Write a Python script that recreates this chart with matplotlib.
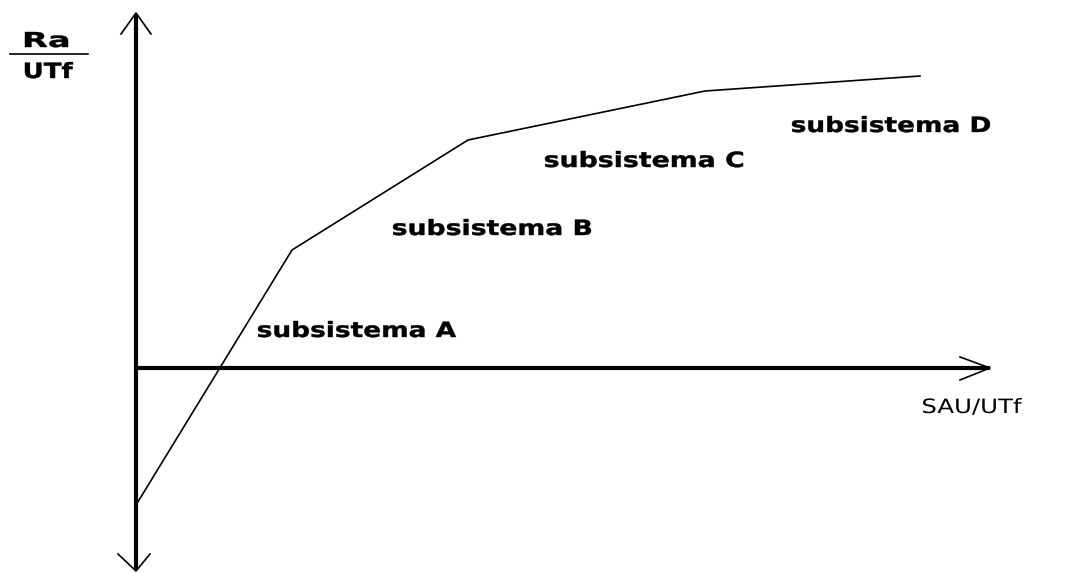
import matplotlib
matplotlib.use('Agg')
import matplotlib.pyplot as plt
from matplotlib.textpath import TextPath
from matplotlib.patches import PathPatch
from matplotlib.font_manager import FontProperties
from matplotlib.transforms import Affine2D, IdentityTransform

# breakpoints of the curve (x = SAU/UTf, y = Ra/UTf), arbitrary units
curve_x = [0.0, 1.56, 3.32, 5.69, 7.84]
curve_y = [-1.37, 1.18, 2.28, 2.77, 2.92]

subsystems = ['subsistema A', 'subsistema B', 'subsistema C', 'subsistema D']
label_x = [1.22, 2.57, 4.09, 6.56]
label_y = [0.31, 1.33, 2.01, 2.36]

fig = plt.figure(figsize=(10.65, 5.73), dpi=100)
ax = fig.add_axes([0, 0, 1, 1])
ax.set_xlim(-1.36, 9.29)
ax.set_ylim(-2.05, 3.68)
ax.axis('off')


def wide_text(x, y, s, width, height, weight='bold', stroke=0.3):
    # old bitmap fonts are much wider than anything installed, so stretch a path
    prop = FontProperties(family='DejaVu Sans', weight=weight)
    tp = TextPath((0, 0), s, size=20, prop=prop)
    ext = tp.get_extents()
    px, py = ax.transData.transform((x, y))
    tr = Affine2D().translate(-ext.x0, 0).scale(width / ext.width, height / ext.y1).translate(px, py)
    ax.add_patch(PathPatch(tr.transform_path(tp), transform=IdentityTransform(),
                           facecolor='black', edgecolor='black', lw=stroke))


# axes
ax.plot([0, 0], [-2.02, 3.54], color='black', lw=3, solid_capstyle='butt')
ax.plot([0, 8.54], [0, 0], color='black', lw=3, solid_capstyle='butt')

# open arrow heads
ax.plot([-0.15, 0, 0.15], [3.34, 3.55, 3.34], color='black', lw=1.2)
ax.plot([-0.18, 0, 0.14], [-1.86, -2.03, -1.86], color='black', lw=1.2)
ax.plot([8.24, 8.54, 8.24], [0.11, 0.0, -0.12], color='black', lw=1.2)

ax.plot(curve_x, curve_y, color='black', lw=1.2)

for s, x, y in zip(subsystems, label_x, label_y):
    wide_text(x, y, s, 198, 16)

wide_text(-1.11, 3.21, 'Ra', 43, 15)
ax.plot([-1.26, -0.48], [3.14, 3.14], color='black', lw=1.2)
wide_text(-1.11, 2.90, 'UTf', 48, 16)

wide_text(7.87, -0.45, 'SAU/UTf', 99, 15, weight='normal', stroke=0.0)

fig.savefig('out.png', dpi=100)
